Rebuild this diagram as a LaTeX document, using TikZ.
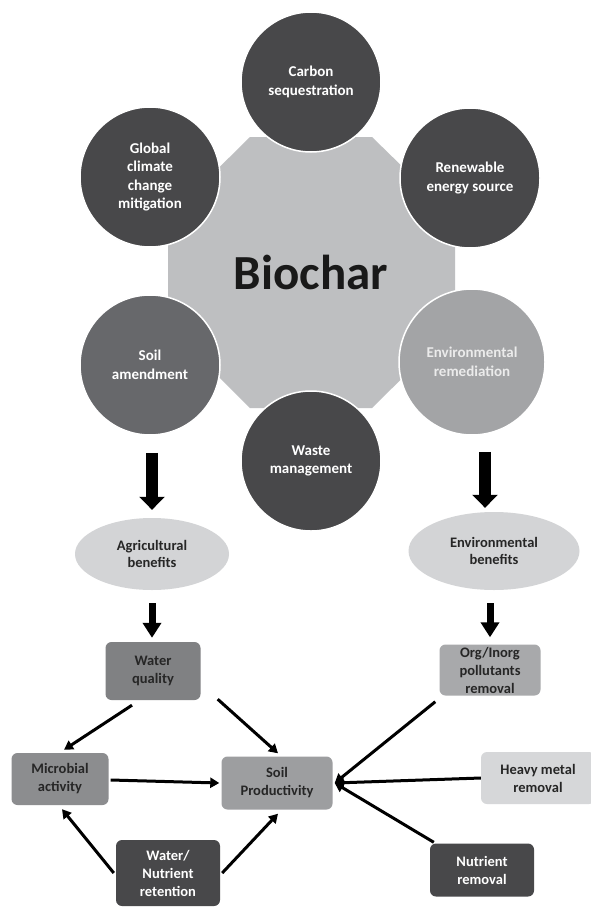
\documentclass[tikz,border=0pt]{standalone}
\usepackage{fontspec}
\setmainfont{Carlito}
\usetikzlibrary{shapes.geometric,arrows.meta,calc}
\definecolor{dk}{HTML}{48484A}
\definecolor{soilc}{HTML}{67686B}
\definecolor{remc}{HTML}{A3A4A6}
\definecolor{octc}{HTML}{BEBFC1}
\definecolor{ellc}{HTML}{D3D4D6}
\definecolor{wqc}{HTML}{808183}
\definecolor{orgc}{HTML}{A8A9AB}
\definecolor{micc}{HTML}{8C8D8F}
\definecolor{spc}{HTML}{9D9EA0}
\definecolor{hmc}{HTML}{D6D7D9}
\definecolor{txtdk}{HTML}{262626}
\tikzset{
  circ/.style={circle, draw=white, line width=1.5pt, minimum size=140pt, inner sep=0pt,
    align=center, text=white, font=\fontsize{15}{18.5}\selectfont\bfseries},
  ell/.style={ellipse, fill=ellc, inner sep=0pt, align=center, text=txtdk,
    font=\fontsize{14.5}{17.5}\selectfont\bfseries},
  box/.style={rounded corners=6pt, inner sep=0pt, align=center, text=txtdk,
    font=\fontsize{14.5}{18}\selectfont\bfseries},
  conn/.style={line width=3pt, -{Triangle[length=9pt,width=10pt]}},
  bigarrow/.style={line width=12.5pt, -{Triangle[length=13pt,width=25pt]}},
  smallarrow/.style={line width=7pt, -{Triangle[length=15pt,width=18pt]}}
}
\begin{document}
\begin{tikzpicture}[x=1pt,y=-1pt]
\useasboundingbox[fill=white] (0,0) rectangle (590,907);
% central octagon
\fill[octc] (250,137) -- (372,137) -- (455,218) -- (455,326) -- (372,408) -- (250,408)
  -- (168,326) -- (168,218) -- cycle;
\node[text=black!90, font=\fontsize{49}{52}\selectfont\bfseries] (bio) at (311,272) {Biochar};
% circles
\node[circ, fill=dk] (cs) at (311,82) {Carbon\\sequestration};
\node[circ, fill=dk] (gc) at (150,177) {Global\\climate\\change\\mitigation};
\node[circ, fill=dk] (re) at (470,178) {Renewable\\energy source};
\node[circ, fill=soilc] (sa) at (150,365) {Soil\\amendment};
\node[circ, fill=remc, minimum size=146pt, text=white!92!black] (er) at (472,362) {Environmental\\remediation};
\node[circ, fill=dk] (wm) at (311,461) {Waste\\management};
% benefit ellipses
\node[ell, minimum width=154pt, minimum height=72pt] (agr) at (152,554) {Agricultural\\benefits};
\node[ell, minimum width=171pt, minimum height=78pt] (eb) at (494,551) {Environmental\\benefits};
% big arrows
\draw[bigarrow, shorten <=17pt, shorten >=8pt] (sa.south -| agr.north) -- (agr.north);
\draw[bigarrow, shorten <=16pt, shorten >=4pt] ([xshift=13pt]er.south) -- ([xshift=-9pt]eb.north);
% boxes
\node[box, fill=wqc, minimum width=95pt, minimum height=58pt] (wq) at (153,671) {Water\\quality};
\node[box, fill=orgc, minimum width=101pt, minimum height=51pt] (org) at (490,670) {Org/Inorg\\pollutants\\removal};
\node[box, fill=micc, minimum width=97pt, minimum height=52pt] (mic) at (60,779) {Microbial\\activity};
\node[box, fill=spc, minimum width=111pt, minimum height=53pt] (sp) at (277,783) {Soil\\Productivity};
\node[box, fill=hmc, minimum width=114pt, minimum height=52pt] (hm) at (538,778) {Heavy metal\\removal};
\node[box, fill=dk, text=white, minimum width=104pt, minimum height=66pt] (wn) at (168,873) {Water/\\Nutrient\\retention};
\node[box, fill=dk, text=white, minimum width=104pt, minimum height=53pt] (nr) at (482,870) {Nutrient\\removal};
% small arrows
\draw[smallarrow, shorten <=13pt, shorten >=4pt] (agr.south) -- (agr.south |- wq.north);
\draw[smallarrow, shorten <=13pt, shorten >=7pt] (eb.south -| org.north) -- (org.north);
% connectors
\draw[conn] ($(wq.south)+(-21,5)$) -- ($(mic.north)+(4,-3)$);
\draw[conn] ($(wq.south east)+(17,-1)$) -- ($(sp.north)+(1,-3)$);
\draw[conn] ($(mic.east)+(2,1)$) -- ($(sp.west)+(-2,0)$);
\draw[conn] ($(wn.west)+(-2,0)$) -- ($(mic.south)+(2,4)$);
\draw[conn] ($(wn.east)+(2,0)$) -- ($(sp.south)+(1,4)$);
\draw[conn] ($(org.south west)+(-4,6)$) -- ($(sp.east)+(2,0)$);
\draw[conn] (hm.west) -- ($(sp.east)+(2,0)$);
\draw[conn] ($(nr.north west)+(4,-1)$) -- ($(sp.east)+(2,0)$);
\end{tikzpicture}
\end{document}
